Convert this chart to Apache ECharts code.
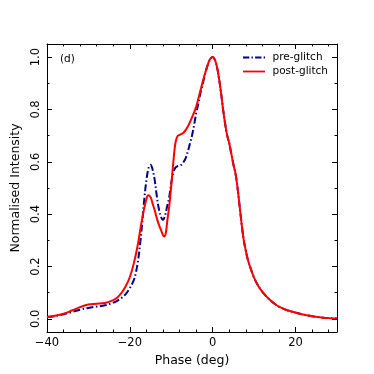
<!DOCTYPE html>
<html>
<head>
<meta charset="utf-8">
<script src="https://cdn.jsdelivr.net/npm/echarts@6/dist/echarts.min.js"></script>
<style>
  html, body { margin: 0; padding: 0; background: #fff; }
  #chart { width: 374px; height: 374px; }
</style>
</head>
<body>
<div id="chart"></div>
<script>
// pre-glitch profile (phase in deg, normalised intensity)
var prePhase = [-40, -38, -36, -34, -32, -30, -28, -26, -24, -23,
    -22, -21, -20, -19, -18.5, -18, -17.5, -17, -16.5, -16,
    -15.5, -15, -14.5, -14, -13.5, -13, -12.5, -12, -11.5, -11,
    -10.5, -10, -9.5, -9, -8.5, -8, -7.5, -7, -6.5, -6,
    -5.5, -5, -4.5, -4, -3.5, -3, -2.5, -2, -1.5, -1,
    -0.5, 0, 0.5, 1, 1.5, 2, 2.5, 3, 3.5, 4,
    4.5, 5, 5.5, 6, 6.5, 7, 7.5, 8, 8.5, 9,
    10, 11, 12, 13, 14, 15, 16, 18, 20, 22, 24, 26, 28, 30];
var preIntensity = [0.007, 0.011, 0.018, 0.026, 0.035, 0.042, 0.047, 0.052, 0.062, 0.07,
    0.08, 0.095, 0.118, 0.15, 0.18, 0.225, 0.29, 0.37, 0.46, 0.53,
    0.575, 0.589, 0.57, 0.53, 0.47, 0.42, 0.39, 0.378, 0.395, 0.43,
    0.465, 0.52, 0.56, 0.578, 0.583, 0.585, 0.59, 0.60, 0.615, 0.64,
    0.67, 0.70, 0.74, 0.785, 0.82, 0.86, 0.89, 0.925, 0.955, 0.978,
    0.995, 1.0, 0.99, 0.965, 0.92, 0.865, 0.80, 0.745, 0.70, 0.67,
    0.63, 0.59, 0.555, 0.50, 0.43, 0.36, 0.30, 0.26, 0.225, 0.20,
    0.157, 0.126, 0.103, 0.085, 0.07, 0.057, 0.047, 0.033, 0.024, 0.016, 0.01, 0.006, 0.003, 0.002];

// post-glitch profile
var postPhase = [-40, -38, -36, -34, -32, -30, -28, -26, -24, -23,
    -22, -21, -20, -19, -18, -17.5, -17, -16.5, -16, -15.6,
    -15, -14.5, -14, -13.5, -13, -12.5, -12, -11.7, -11.3, -11,
    -10.5, -10, -9.5, -9, -8.5, -8, -7, -6, -5, -4,
    -3, -2, -1, -0.5, 0, 0.5, 1, 1.5, 2, 2.5,
    3, 3.5, 4, 4.5, 5, 5.5, 6, 6.5, 7, 7.5,
    8, 8.5, 9, 10, 11, 12, 13, 14, 15, 16,
    18, 20, 22, 24, 26, 28, 30];
var postIntensity = [0.007, 0.012, 0.02, 0.032, 0.045, 0.055, 0.058, 0.061, 0.072, 0.082,
    0.1, 0.125, 0.16, 0.215, 0.29, 0.34, 0.385, 0.425, 0.458, 0.472,
    0.465, 0.44, 0.415, 0.385, 0.36, 0.34, 0.32, 0.315, 0.33, 0.37,
    0.43, 0.51, 0.60, 0.672, 0.698, 0.703, 0.712, 0.735, 0.77, 0.81,
    0.87, 0.93, 0.98, 0.995, 1.0, 0.99, 0.965, 0.92, 0.865, 0.80,
    0.745, 0.70, 0.67, 0.63, 0.59, 0.555, 0.50, 0.43, 0.36, 0.30,
    0.26, 0.225, 0.20, 0.157, 0.126, 0.103, 0.085, 0.07, 0.057, 0.047,
    0.033, 0.024, 0.016, 0.01, 0.006, 0.003, 0.002];

// ticks
var xMajor = [-40, -20, 0, 20];
var xMinor = [-36, -32, -28, -24, -16, -12, -8, -4, 4, 8, 12, 16, 24, 28];
var yMajor = [0, 0.2, 0.4, 0.6, 0.8, 1.0];
var yMinor = [0.1, 0.3, 0.5, 0.7, 0.9];

var FONT = 'DejaVu Sans';

function zip(xs, ys) {
    var out = [];
    for (var i = 0; i < xs.length; i++) out.push([xs[i], ys[i]]);
    return out;
}

function fmtX(v) {
    return v < 0 ? '\u2212' + Math.abs(v) : String(v);
}

// one axis per tick set (major / minor), mirrored on the opposite side
function xAx(pos, ticks, len, labels, line) {
    return {
        type: 'value', position: pos, min: -40, max: 30,
        axisLine: { show: line, onZero: false, lineStyle: { color: '#000', width: 1 } },
        axisTick: { show: true, inside: true, length: len, customValues: ticks,
            lineStyle: { color: '#000', width: 1 } },
        axisLabel: { show: labels, customValues: ticks, formatter: fmtX, margin: 5,
            color: '#000', fontFamily: FONT, fontSize: 11.5 },
        splitLine: { show: false }
    };
}
function yAx(pos, ticks, len, labels, line) {
    return {
        type: 'value', position: pos, min: -0.05, max: 1.05,
        axisLine: { show: line, onZero: false, lineStyle: { color: '#000', width: 1 } },
        axisTick: { show: true, inside: true, length: len, customValues: ticks,
            lineStyle: { color: '#000', width: 1 } },
        axisLabel: { show: labels, customValues: ticks, rotate: 90, margin: 5,
            formatter: function (v) { return v.toFixed(1); },
            color: '#000', fontFamily: FONT, fontSize: 11.5 },
        splitLine: { show: false }
    };
}

var myChart = echarts.init(document.getElementById('chart'));

var bottomX = xAx('bottom', xMajor, 5, true, true);
bottomX.name = 'Phase (deg)';
bottomX.nameLocation = 'middle';
bottomX.nameGap = 18;
bottomX.nameTextStyle = { color: '#000', fontFamily: FONT, fontSize: 12.5 };

var leftY = yAx('left', yMajor, 5, true, true);
leftY.name = 'Normalised Intensity';
leftY.nameLocation = 'middle';
leftY.nameGap = 17;
leftY.nameTextStyle = { color: '#000', fontFamily: FONT, fontSize: 12.5 };

// legend glyphs: dash-dot and solid strokes
var ICON_DASHDOT = 'path://M0,0h7v2h-7z M9.5,0h1.5v2h-1.5z M13.5,0h7v2h-7z M23,0h1.5v2h-1.5z';
var ICON_SOLID = 'path://M0,0h24.5v2h-24.5z';

var option = {
    animation: false,
    backgroundColor: '#fff',
    grid: { left: 47, right: 37, top: 44, bottom: 42 },
    xAxis: [
        bottomX,
        xAx('bottom', xMinor, 2.5, false, false),
        xAx('top', xMajor, 5, false, true),
        xAx('top', xMinor, 2.5, false, false)
    ],
    yAxis: [
        leftY,
        yAx('left', yMinor, 2.5, false, false),
        yAx('right', yMajor, 5, false, true),
        yAx('right', yMinor, 2.5, false, false)
    ],
    legend: {
        orient: 'vertical',
        left: 243, top: 52, padding: 0,
        itemWidth: 22, itemHeight: 2, itemGap: 3,
        textStyle: { color: '#000', fontFamily: FONT, fontSize: 10.5, padding: [0, 0, 0, 2.5] },
        data: [
            { name: 'pre-glitch', icon: ICON_DASHDOT },
            { name: 'post-glitch', icon: ICON_SOLID }
        ]
    },
    graphic: [{
        type: 'text', left: 60, top: 54,
        style: { text: '(d)', fill: '#000', font: '10.5px "DejaVu Sans"' }
    }],
    series: [{
        name: 'pre-glitch',
        type: 'line',
        data: zip(prePhase, preIntensity),
        smooth: 0.35,
        symbol: 'none',
        color: '#00008b',
        lineStyle: { color: '#00008b', width: 2, type: [7, 2.5, 1.5, 2.5] }
    }, {
        name: 'post-glitch',
        type: 'line',
        data: zip(postPhase, postIntensity),
        smooth: 0.35,
        symbol: 'none',
        color: '#ff0000',
        lineStyle: { color: '#ff0000', width: 2 }
    }]
};

myChart.setOption(option);
</script>
</body>
</html>
